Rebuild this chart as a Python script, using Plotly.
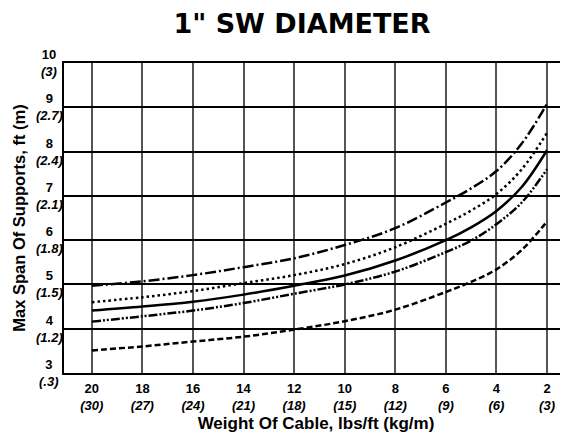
import plotly.graph_objects as go

# Weight of cable (lbs/ft)
weight = [20, 18, 16, 14, 12, 10, 8, 6, 5, 4, 3, 2]

# Max span of supports (ft) for each curve
span_dashdot = [4.97, 5.07, 5.21, 5.39, 5.59, 5.89, 6.27, 6.85, 7.17, 7.56, 8.18, 9.08]
span_dotted = [4.60, 4.71, 4.85, 5.03, 5.21, 5.46, 5.84, 6.37, 6.67, 7.04, 7.60, 8.42]
span_solid = [4.41, 4.50, 4.61, 4.77, 4.97, 5.20, 5.54, 6.00, 6.29, 6.66, 7.20, 8.03]
span_dashdotdot = [4.16, 4.28, 4.41, 4.58, 4.79, 5.00, 5.29, 5.73, 5.99, 6.36, 6.85, 7.60]
span_dashed = [3.51, 3.60, 3.71, 3.82, 3.98, 4.17, 4.43, 4.83, 5.06, 5.34, 5.78, 6.42]

x_tickvals = [20, 18, 16, 14, 12, 10, 8, 6, 4, 2]
x_metric = ["30", "27", "24", "21", "18", "15", "12", "9", "6", "3"]
y_tickvals = [3, 4, 5, 6, 7, 8, 9, 10]
y_metric = [".3", "1.2", "1.5", "1.8", "2.1", "2.4", "2.7", "3"]

series = [
    (span_dashdot, "11px,3px,2px,3px"),
    (span_dotted, "2.5px,3px"),
    (span_solid, "solid"),
    (span_dashdotdot, "9px,2px,2px,2px,2px,2px"),
    (span_dashed, "6px,3px"),
]

fig = go.Figure()
for ys, dash in series:
    fig.add_trace(go.Scatter(
        x=weight, y=ys, mode="lines",
        line=dict(color="black", width=2.5, dash=dash, shape="spline", smoothing=1),
        showlegend=False, hoverinfo="skip",
    ))

font_family = "Liberation Sans, Arial, sans-serif"
# the page adds an 8px body margin; the figure is sized so the plot lands in place
W, H = 560, 428
L, R, T, B = 56, 0, 55, 63
plot_w = W - L - R

fig.update_layout(
    width=W, height=H,
    margin=dict(l=L, r=R, t=T, b=B, autoexpand=False),
    paper_bgcolor="white", plot_bgcolor="white",
    title=dict(
        text="<b>1\" SW DIAMETER</b>",
        font=dict(family="DejaVu Sans, sans-serif", size=27, color="black"),
        x=294 / W, xref="container", xanchor="center",
        y=1 - 6 / H, yref="container", yanchor="top",
    ),
    font=dict(family=font_family, color="black"),
)

fig.update_xaxes(
    range=[21.1, 1.17],
    tickmode="array", tickvals=x_tickvals,
    ticktext=[f"<b>{v}</b><br><b><i>({m})</i></b>" for v, m in zip(x_tickvals, x_metric)],
    tickfont=dict(size=13, family=font_family, color="black"),
    ticklabelstandoff=3,
    showgrid=True, gridcolor="#555555", gridwidth=1.5,
    showline=True, linecolor="black", linewidth=1.5, mirror=True,
    zeroline=False, ticks="", automargin=False,
    title=dict(text="<b>Weight Of Cable, lbs/ft (kg/m)</b>",
               font=dict(size=17, family=font_family, color="black"), standoff=5),
)
fig.update_yaxes(
    range=[3, 10],
    tickmode="array", tickvals=y_tickvals,
    showticklabels=False,
    showgrid=True, gridcolor="black", gridwidth=1.5,
    showline=True, linecolor="black", linewidth=1.5,
    zeroline=False, ticks="", automargin=False,
    title=dict(text="<b>Max Span Of Supports, ft (m)</b>",
               font=dict(size=16.5, family=font_family, color="black"), standoff=32),
)

# y tick labels, centred (two lines: ft and metres)
for v, m in zip(y_tickvals, y_metric):
    fig.add_annotation(
        x=(41 - L) / plot_w, xref="paper", y=v, yref="y",
        text=f"<b>{v}</b><br><b><i>({m})</i></b>",
        showarrow=False, xanchor="center", yanchor="middle", align="center",
        font=dict(size=13, family=font_family, color="black"),
    )

fig.write_html("out.html")
